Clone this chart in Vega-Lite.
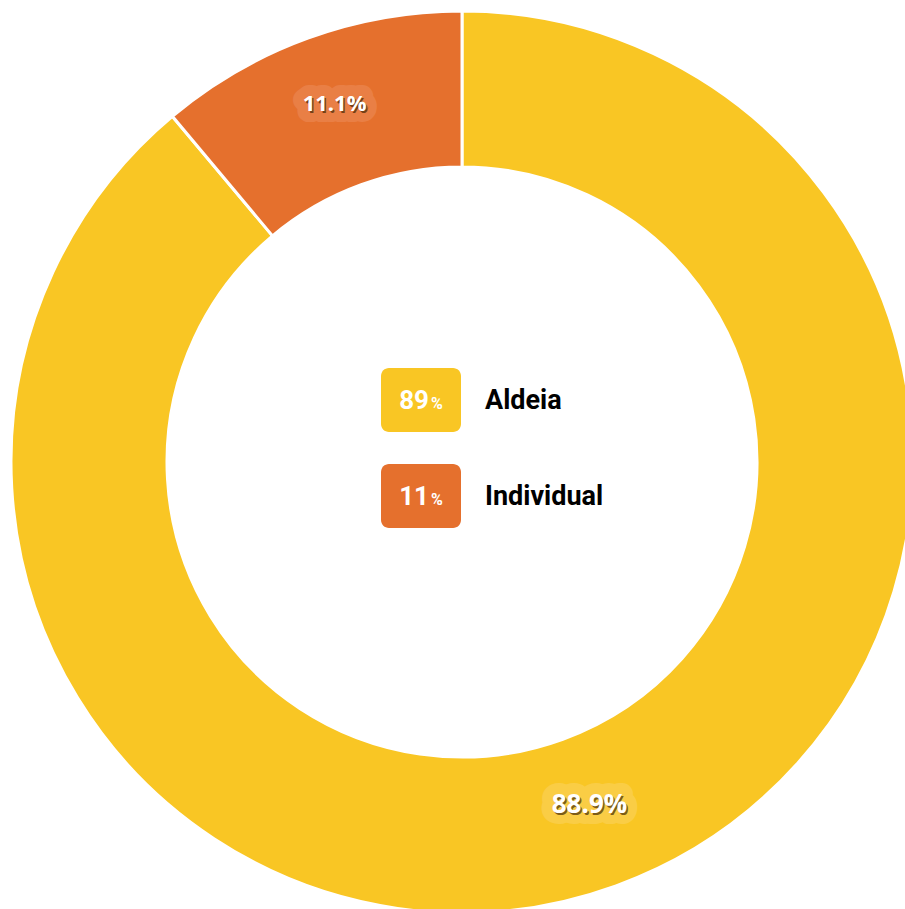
{
  "$schema": "https://vega.github.io/schema/vega-lite/v6.json",
  "width": 924,
  "height": 924,
  "autosize": "none",
  "padding": 0,
  "background": "white",
  "config": {"view": {"stroke": null}},
  "data": {"values": [
    {"cat": "Aldeia", "value": 88.9},
    {"cat": "Individual", "value": 11.1}
  ]},
  "transform": [
    {"calculate": "format(datum.value, '.1f') + '%'", "as": "label"},
    {"calculate": "format(datum.value, '.0f')", "as": "short"}
  ],
  "layer": [
    {
      "mark": {"type": "arc", "outerRadius": 451, "innerRadius": 295, "stroke": "white", "strokeWidth": 3},
      "encoding": {
        "theta": {"field": "value", "type": "quantitative", "stack": true},
        "color": {"field": "cat", "type": "nominal", "scale": {"domain": ["Aldeia", "Individual"], "range": ["#F9C624", "#E5702D"]}, "legend": null}
      }
    },
    {
      "mark": {"type": "text", "radius": 373, "font": "Open Sans", "fontWeight": "bold", "align": "center", "baseline": "alphabetic", "fillOpacity": 0, "strokeWidth": 22, "strokeJoin": "round", "strokeCap": "round"},
      "encoding": {
        "theta": {"field": "value", "type": "quantitative", "stack": true},
        "detail": {"field": "cat", "type": "nominal"},
        "text": {"field": "label"},
        "stroke": {"field": "cat", "type": "nominal", "scale": {"domain": ["Aldeia", "Individual"], "range": ["#FACD45", "#E97F45"]}, "legend": null},
        "size": {"field": "cat", "type": "nominal", "scale": {"domain": ["Aldeia", "Individual"], "range": [26, 22]}, "legend": null}
      }
    },
    {
      "mark": {"type": "text", "radius": 373, "font": "Open Sans", "fontWeight": "bold", "align": "center", "baseline": "alphabetic", "fill": "#3a2000", "opacity": 0.65, "dx": 1.5, "dy": 2},
      "encoding": {
        "theta": {"field": "value", "type": "quantitative", "stack": true},
        "detail": {"field": "cat", "type": "nominal"},
        "text": {"field": "label"},
        "size": {"field": "cat", "type": "nominal", "scale": {"domain": ["Aldeia", "Individual"], "range": [26, 22]}, "legend": null}
      }
    },
    {
      "mark": {"type": "text", "radius": 373, "font": "Open Sans", "fontWeight": "bold", "align": "center", "baseline": "alphabetic", "fill": "white"},
      "encoding": {
        "theta": {"field": "value", "type": "quantitative", "stack": true},
        "detail": {"field": "cat", "type": "nominal"},
        "text": {"field": "label"},
        "size": {"field": "cat", "type": "nominal", "scale": {"domain": ["Aldeia", "Individual"], "range": [26, 22]}, "legend": null}
      }
    },
    {
      "mark": {"type": "point", "filled": true, "opacity": 1, "strokeWidth": 0, "size": 6400, "shape": "M -0.8 -0.8 L 0.8 -0.8 A 0.2 0.2 0 0 1 1 -0.6 L 1 0.6 A 0.2 0.2 0 0 1 0.8 0.8 L -0.8 0.8 A 0.2 0.2 0 0 1 -1 0.6 L -1 -0.6 A 0.2 0.2 0 0 1 -0.8 -0.8 Z"},
      "encoding": {
        "x": {"value": {"expr": "width/2 - 41"}},
        "y": {"field": "cat", "type": "nominal", "scale": {"type": "point", "padding": 0, "range": [400, 496]}, "axis": null},
        "color": {"field": "cat", "type": "nominal", "scale": {"domain": ["Aldeia", "Individual"], "range": ["#F9C624", "#E5702D"]}, "legend": null}
      }
    },
    {
      "mark": {"type": "text", "font": "Roboto", "fontWeight": "bold", "fontSize": 26, "align": "right", "baseline": "alphabetic", "dy": 9, "fill": "white"},
      "encoding": {
        "x": {"value": {"expr": "width/2 - 33"}},
        "y": {"field": "cat", "type": "nominal"},
        "text": {"field": "short"}
      }
    },
    {
      "mark": {"type": "text", "font": "Roboto", "fontWeight": "bold", "fontSize": 16, "align": "left", "baseline": "alphabetic", "dy": 9, "fill": "white"},
      "encoding": {
        "x": {"value": {"expr": "width/2 - 31"}},
        "y": {"field": "cat", "type": "nominal"},
        "text": {"value": "%"}
      }
    },
    {
      "mark": {"type": "text", "font": "Roboto", "fontWeight": "bold", "fontSize": 27, "align": "left", "baseline": "alphabetic", "dy": 9, "fill": "black"},
      "encoding": {
        "x": {"value": {"expr": "width/2 + 23"}},
        "y": {"field": "cat", "type": "nominal"},
        "text": {"field": "cat"}
      }
    }
  ]
}
